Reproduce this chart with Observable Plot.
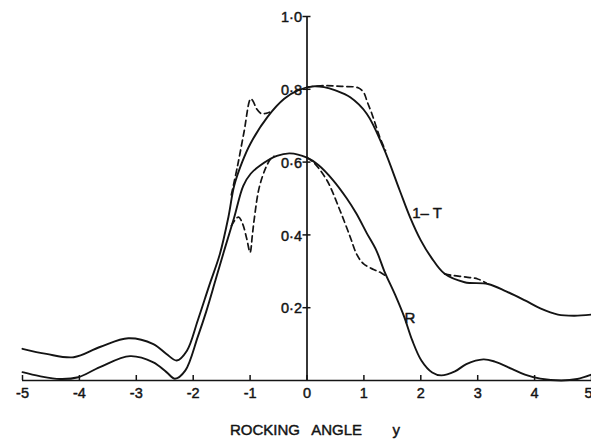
<!DOCTYPE html>
<html>
<head>
<meta charset="utf-8">
<script src="https://cdn.jsdelivr.net/npm/d3@7"></script>
<script src="https://cdn.jsdelivr.net/npm/@observablehq/plot@0.6"></script>
<style>
  html, body { margin: 0; padding: 0; background: #fff; }
  #chart svg { display: block; }
</style>
</head>
<body>
<div id="chart"></div>
<script>
// ---- data ----
// 1 - T, solid (theory)
const oneMinusT = [
  [-5.0, 0.087], [-4.58, 0.073], [-4.1, 0.064], [-3.64, 0.092], [-3.14, 0.116],
  [-2.70, 0.100], [-2.47, 0.073], [-2.29, 0.055], [-2.11, 0.082], [-1.92, 0.165],
  [-1.72, 0.26], [-1.53, 0.348], [-1.38, 0.45], [-1.28, 0.535], [-1.14, 0.60],
  [-0.99, 0.652], [-0.69, 0.725], [-0.40, 0.774], [-0.16, 0.797], [0.10, 0.808],
  [0.30, 0.806], [0.50, 0.797], [0.76, 0.778], [1.05, 0.733], [1.34, 0.641],
  [1.63, 0.522], [1.81, 0.449], [2.0, 0.385], [2.18, 0.339], [2.42, 0.293],
  [2.77, 0.270], [3.18, 0.265], [3.50, 0.245], [3.83, 0.220], [4.10, 0.198],
  [4.41, 0.181], [4.70, 0.178], [5.0, 0.181]
];
// 1 - T, dashed pieces (where they leave the solid curve)
const oneMinusTDashA = [
  [-1.33, 0.51], [-1.22, 0.59], [-1.11, 0.68], [-0.99, 0.774], [-0.95, 0.768],
  [-0.88, 0.745], [-0.80, 0.733], [-0.72, 0.734], [-0.66, 0.737]
];
const oneMinusTDashB = [
  [0.0, 0.806], [0.3, 0.810], [0.6, 0.808], [0.90, 0.804], [1.0, 0.790],
  [1.06, 0.765], [1.14, 0.733], [1.28, 0.668], [1.38, 0.632]
];
const oneMinusTDashC = [
  [2.42, 0.293], [2.55, 0.289], [2.80, 0.284], [3.0, 0.279], [3.15, 0.268]
];
// R, solid
const reflR = [
  [-5.0, 0.023], [-4.7, 0.012], [-4.34, 0.004], [-4.02, 0.009], [-3.64, 0.037],
  [-3.11, 0.067], [-2.70, 0.050], [-2.47, 0.023], [-2.32, 0.005], [-2.14, 0.027],
  [-1.92, 0.12], [-1.77, 0.19], [-1.60, 0.28], [-1.44, 0.365], [-1.28, 0.448],
  [-1.12, 0.535], [-0.99, 0.568], [-0.83, 0.590], [-0.53, 0.617], [-0.30, 0.624],
  [0.0, 0.612], [0.20, 0.592], [0.46, 0.550], [0.70, 0.500], [0.87, 0.458],
  [1.05, 0.405], [1.22, 0.357], [1.36, 0.300], [1.55, 0.235], [1.71, 0.174],
  [1.85, 0.110], [2.01, 0.055], [2.20, 0.022], [2.36, 0.014], [2.60, 0.025],
  [2.80, 0.045], [3.10, 0.058], [3.30, 0.052], [3.60, 0.032], [3.83, 0.016],
  [4.10, 0.005], [4.47, 0.0], [4.75, 0.004], [5.0, 0.016]
];
// R, dashed pieces
const reflRDashD = [
  [-1.33, 0.425], [-1.25, 0.444], [-1.20, 0.449], [-1.13, 0.43], [-1.06, 0.39],
  [-1.0, 0.352], [-0.96, 0.40], [-0.93, 0.44], [-0.84, 0.53], [-0.72, 0.586],
  [-0.64, 0.609], [-0.58, 0.616]
];
const reflRDashE = [
  [0.0, 0.612], [0.11, 0.600], [0.35, 0.550], [0.58, 0.467], [0.76, 0.394],
  [0.87, 0.348], [0.99, 0.321], [1.17, 0.305], [1.30, 0.296], [1.40, 0.285]
];

// axes and labels
const xTicks = [-5, -4, -3, -2, -1, 0, 1, 2, 3, 4, 5];
const xTickLabels = ["-5", "-4", "-3", "-2", "-1", "0", "1", "2", "3", "4", "5"];
const yTicks = [0.2, 0.4, 0.6, 0.8, 1.0];
const yTickLabels = ["0·2", "0·4", "0·6", "0·8", "1·0"];
const curveLabels = [
  {x: 2.11, y: 0.46, text: "1– T"},
  {x: 1.81, y: 0.172, text: "R"}
];
const axisTitleWords = [
  {x: -0.74, text: "ROCKING"},
  {x: 0.52, text: "ANGLE"},
  {x: 1.57, text: "y"}
];

// ---- style constants ----
const ink = "#141414";
const font = "'Liberation Sans', Arial, sans-serif";
const W = 591, H = 439;
const mTop = 16, mBottom = 59, mLeft = 22, mRight = 0;
const yPx = H - mTop - mBottom;
const xPx = W - mLeft - mRight;
const xTickLen = 5 / yPx;      // 5px in y data units
const yTickHalf = 4 / (xPx / 10); // 4px in x data units
const textInk = {fill: ink, stroke: ink, strokeWidth: 0.45};

const lineOpts = {x: d => d[0], y: d => d[1], curve: "catmull-rom", stroke: ink, strokeWidth: 1.9};
const dashOpts = {...lineOpts, strokeDasharray: "6,4", strokeWidth: 1.7};

const lastTick = xTicks[xTicks.length - 1];

const chart = Plot.plot({
  width: W,
  height: H,
  marginTop: mTop,
  marginBottom: mBottom,
  marginLeft: mLeft,
  marginRight: mRight,
  style: {background: "#fff", fontFamily: font},
  x: {domain: [-5, 5], axis: null},
  y: {domain: [0, 1], axis: null},
  marks: [
    // axes
    Plot.ruleY([0], {stroke: ink, strokeWidth: 1.7}),
    Plot.ruleX([0], {y1: 0, y2: 1, stroke: ink, strokeWidth: 1.7}),
    Plot.ruleX(xTicks, {x: d => d, y1: 0, y2: xTickLen, stroke: ink, strokeWidth: 1.5}),
    Plot.ruleY(yTicks, {y: d => d, x1: -yTickHalf, x2: yTickHalf, stroke: ink, strokeWidth: 1.5}),
    Plot.text(xTicks.filter(d => d !== lastTick), {x: d => d, y: 0, text: d => xTickLabels[xTicks.indexOf(d)], dy: 13, fontSize: 14.5, lineAnchor: "middle", ...textInk}),
    Plot.text([lastTick], {x: d => d, y: 0, text: d => xTickLabels[xTicks.indexOf(d)], dy: 13, dx: 1, fontSize: 14.5, lineAnchor: "middle", textAnchor: "end", ...textInk}),
    Plot.text(yTicks, {x: 0, y: d => d, text: (d, i) => yTickLabels[i], dx: -5, dy: 1, fontSize: 14.5, textAnchor: "end", ...textInk}),
    // curves
    Plot.line(oneMinusT, lineOpts),
    Plot.line(reflR, lineOpts),
    Plot.line(oneMinusTDashA, dashOpts),
    Plot.line(oneMinusTDashB, dashOpts),
    Plot.line(oneMinusTDashC, dashOpts),
    Plot.line(reflRDashD, dashOpts),
    Plot.line(reflRDashE, dashOpts),
    // labels
    Plot.text(curveLabels, {x: "x", y: "y", text: "text", fontSize: 15, ...textInk}),
    Plot.text(axisTitleWords, {x: "x", y: 0, text: "text", dy: 50, fontSize: 15, ...textInk})
  ]
});

document.getElementById("chart").appendChild(chart);
</script>
</body>
</html>
